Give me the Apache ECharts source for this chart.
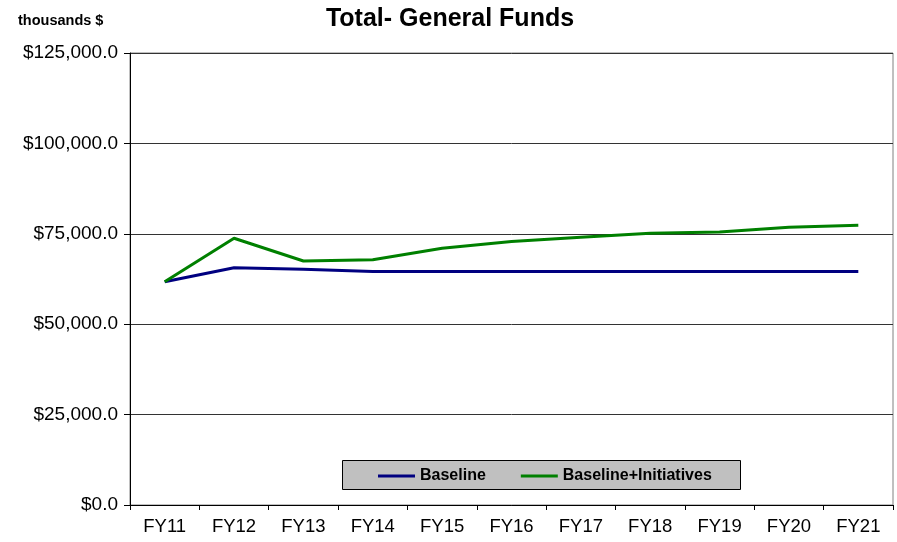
<!DOCTYPE html>
<html>
<head>
<meta charset="utf-8">
<script src="https://cdn.jsdelivr.net/npm/echarts@6/dist/echarts.min.js"></script>
<style>html,body{margin:0;padding:0;background:#fff}#c{width:897px;height:542px}</style>
</head>
<body>
<div id="c"></div>
<script>
const categories = ['FY11','FY12','FY13','FY14','FY15','FY16','FY17','FY18','FY19','FY20','FY21'];
const baseline = [61750, 65630, 65180, 64570, 64570, 64570, 64570, 64570, 64570, 64570, 64570];
const initiatives = [61750, 73760, 67480, 67840, 70990, 72870, 74030, 75140, 75500, 76800, 77350];
const seriesNames = ['Baseline', 'Baseline+Initiatives'];
const yTicks = [0, 25000, 50000, 75000, 100000, 125000];

const FONT = '"Liberation Sans", Arial, sans-serif';
const chart = echarts.init(document.getElementById('c'), null, {renderer: 'canvas'});
chart.setOption({
  animation: false,
  backgroundColor: '#fff',
  textStyle: {fontFamily: FONT},
  title: [
    {text: 'Total- General Funds', left: 450, textAlign: 'center', top: 7, padding: 0,
     textStyle: {fontFamily: FONT, fontSize: 25, fontWeight: 'bold', color: '#000'}},
    {text: 'thousands $', left: 18, top: 13, padding: 0,
     textStyle: {fontFamily: FONT, fontSize: 14.5, fontWeight: 'bold', color: '#000'}}
  ],
  graphic: [{
    type: 'rect', left: 342, top: 460, z: 0,
    shape: {width: 398, height: 29},
    style: {fill: '#c0c0c0', stroke: '#000', lineWidth: 1}
  }],
  legend: {
    left: 378, top: 468, z: 10, padding: 0,
    itemWidth: 37, itemHeight: 3, itemGap: 35, icon: 'rect',
    textStyle: {fontFamily: FONT, fontSize: 16, fontWeight: 'bold', color: '#000'},
    data: seriesNames
  },
  grid: {left: 130, right: 4, top: 53, bottom: 37, show: true, borderColor: '#808080', borderWidth: 1},
  xAxis: {
    type: 'category', data: categories, boundaryGap: true,
    axisLine: {lineStyle: {color: '#000', width: 1}},
    axisTick: {show: true, length: 5, interval: 0, lineStyle: {color: '#000'}},
    axisLabel: {fontFamily: FONT, fontSize: 18.5, color: '#000', margin: 12, interval: 0}
  },
  yAxis: {
    type: 'value', min: yTicks[0], max: yTicks[yTicks.length - 1], interval: 25000,
    axisLine: {show: true, lineStyle: {color: '#000', width: 1}},
    axisTick: {show: true, length: 6, lineStyle: {color: '#000'}},
    splitLine: {show: true, lineStyle: {color: '#333', width: 1}},
    axisLabel: {fontFamily: FONT, fontSize: 19, color: '#000', margin: 12,
      formatter: v => '$' + v.toLocaleString('en-US', {minimumFractionDigits: 1, maximumFractionDigits: 1})}
  },
  series: [
    {name: seriesNames[0], type: 'line', data: baseline, symbol: 'none', color: '#000080',
     lineStyle: {color: '#000080', width: 3}},
    {name: seriesNames[1], type: 'line', data: initiatives, symbol: 'none', color: '#008000',
     lineStyle: {color: '#008000', width: 3}}
  ]
});
</script>
</body>
</html>
